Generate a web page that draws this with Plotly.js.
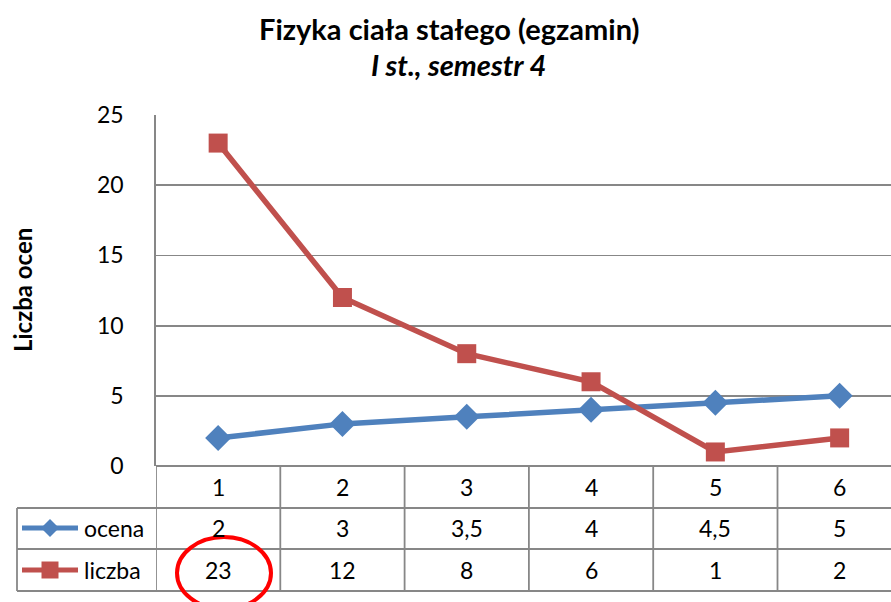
<!DOCTYPE html>
<html>
<head>
<meta charset="utf-8">
<script src="https://cdn.plot.ly/plotly-3.0.1.min.js"></script>
<style>html,body{margin:0;padding:0;background:#fff;}#chart{width:891px;height:602px;}</style>
</head>
<body>
<div id="chart"></div>
<script>
const categories = [1, 2, 3, 4, 5, 6];
const ocena = [2, 3, 3.5, 4, 4.5, 5];
const liczba = [23, 12, 8, 6, 1, 2];
const seriesNames = ['ocena', 'liczba'];
const yTicks = [0, 5, 10, 15, 20, 25];

const W = 891, H = 602;
const L = 156, R = 0, T = 115, B = 136;
const plotW = W - L - R, plotH = H - T - B;
const catW = 124.3;
const px = p => (p - L) / plotW;           // pixel x -> paper x
const py = p => (H - B - p) / plotH;       // pixel y -> paper y

const FONT = 'Lato, "Open Sans", sans-serif';
const gridCol = '#878787';
const blue = '#4F81BD', red = '#C0504D';
const fmt = v => String(v).replace('.', ',');

const traces = [
  {x: categories, y: ocena, name: seriesNames[0], mode: 'lines+markers', type: 'scatter',
   line: {color: blue, width: 5.5}, marker: {symbol: 'diamond', size: 20, color: blue}, cliponaxis: false},
  {x: categories, y: liczba, name: seriesNames[1], mode: 'lines+markers', type: 'scatter',
   line: {color: red, width: 5.5}, marker: {symbol: 'square', size: 19, color: red}, cliponaxis: false}
];

const shapes = [];
const lineStyle = {color: gridCol, width: 1.8};
for (let i = 0; i <= categories.length; i++) {
  const xv = categories[0] - 0.5 + i;
  shapes.push({type: 'line', xref: 'x', yref: 'paper', x0: xv, x1: xv, y0: 0, y1: py(591), line: lineStyle});
}
shapes.push({type: 'line', xref: 'paper', yref: 'paper', x0: px(17), x1: 1, y0: py(508), y1: py(508), line: lineStyle});
shapes.push({type: 'line', xref: 'paper', yref: 'paper', x0: px(17), x1: 1, y0: py(549), y1: py(549), line: lineStyle});
shapes.push({type: 'line', xref: 'paper', yref: 'paper', x0: px(17), x1: 1, y0: py(591), y1: py(591), line: lineStyle});
shapes.push({type: 'line', xref: 'paper', yref: 'paper', x0: px(17), x1: px(17), y0: py(508), y1: py(591), line: lineStyle});
// legend keys
shapes.push({type: 'line', xref: 'paper', yref: 'paper', x0: px(22), x1: px(78), y0: py(528), y1: py(528), line: {color: blue, width: 5}});
shapes.push({type: 'path', xref: 'paper', yref: 'paper', xsizemode: 'pixel', ysizemode: 'pixel',
  xanchor: px(50), yanchor: py(528), path: 'M -9 0 L 0 9 L 9 0 L 0 -9 Z', fillcolor: blue, line: {width: 0}});
shapes.push({type: 'line', xref: 'paper', yref: 'paper', x0: px(22), x1: px(78), y0: py(570), y1: py(570), line: {color: red, width: 5}});
shapes.push({type: 'rect', xref: 'paper', yref: 'paper', xsizemode: 'pixel', ysizemode: 'pixel',
  xanchor: px(50), yanchor: py(570), x0: -8.5, x1: 8.5, y0: -8.5, y1: 8.5, fillcolor: red, line: {width: 0}});
// red ellipse highlight
shapes.push({type: 'circle', xref: 'paper', yref: 'paper', x0: px(177), x1: px(271), y0: py(537), y1: py(609),
  line: {color: '#ff0000', width: 4}});

const annotations = [];
const tf = {family: FONT, size: 23, color: '#000'};
categories.forEach((c, i) => {
  annotations.push({x: c, xref: 'x', y: py(487), yref: 'paper', text: String(c), showarrow: false, font: tf, xanchor: 'center', yanchor: 'middle'});
  annotations.push({x: c, xref: 'x', y: py(528), yref: 'paper', text: fmt(ocena[i]), showarrow: false, font: tf, xanchor: 'center', yanchor: 'middle'});
  annotations.push({x: c, xref: 'x', y: py(570), yref: 'paper', text: fmt(liczba[i]), showarrow: false, font: tf, xanchor: 'center', yanchor: 'middle'});
});
annotations.push({x: px(82), xref: 'paper', y: py(528), yref: 'paper', text: seriesNames[0], showarrow: false, font: tf, xanchor: 'left', yanchor: 'middle'});
annotations.push({x: px(82), xref: 'paper', y: py(570), yref: 'paper', text: seriesNames[1], showarrow: false, font: tf, xanchor: 'left', yanchor: 'middle'});
annotations.push({x: px(22), xref: 'paper', y: py(290), yref: 'paper', text: '<b>Liczba ocen</b>', textangle: -90,
  showarrow: false, font: {family: FONT, size: 24, color: '#000'}, xanchor: 'center', yanchor: 'middle'});
annotations.push({x: px(449), xref: 'paper', y: py(28), yref: 'paper', text: '<b>Fizyka ciała stałego (egzamin)</b>',
  showarrow: false, font: {family: FONT, size: 29, color: '#000'}, xanchor: 'center', yanchor: 'middle'});
annotations.push({x: px(458), xref: 'paper', y: py(64), yref: 'paper', text: '<b><i>I st., semestr 4</i></b>',
  showarrow: false, font: {family: FONT, size: 29, color: '#000'}, xanchor: 'center', yanchor: 'middle'});

const layout = {
  width: W, height: H,
  margin: {l: L, r: R, t: T, b: B, pad: 0},
  paper_bgcolor: '#fff', plot_bgcolor: '#fff',
  showlegend: false,
  xaxis: {range: [0.5, 0.5 + plotW / catW], showgrid: false, zeroline: false, showticklabels: false,
          ticks: '', showline: false, fixedrange: true},
  yaxis: {range: [0, 25], tickvals: yTicks, ticktext: yTicks.map(String), showgrid: true, gridcolor: gridCol, gridwidth: 1.8,
          zeroline: true, zerolinecolor: gridCol, zerolinewidth: 1.8,
          showline: true, linecolor: gridCol, linewidth: 1.8, ticks: '', ticklabelstandoff: 26,
          tickfont: {family: FONT, size: 23, color: '#000'}, fixedrange: true},
  shapes: shapes,
  annotations: annotations
};

Plotly.newPlot('chart', traces, layout, {displayModeBar: false, staticPlot: true});
</script>
</body>
</html>
